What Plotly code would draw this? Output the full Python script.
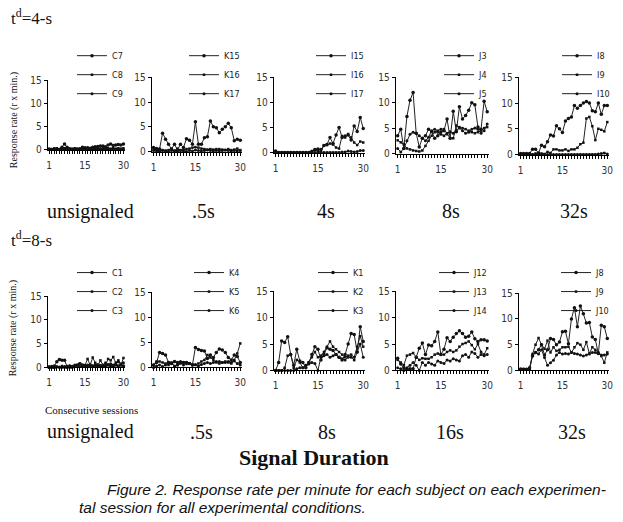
import plotly.graph_objects as go

sessions = list(range(1, 31))

# ---- t^d = 4 s ----
c7 = [0, 0, 0.2, 0, 0, 0.5, 1.2, 0.5, 0.2, 0, 0, 0.1, 0.2, 0.5, 0.4,
      0.4, 0.3, 0.5, 0.6, 0.7, 0.8, 0.8, 0.6, 1.0, 1.2, 0.9, 1.0, 1.1, 1.0, 1.2]
c8 = [0.2, 0.1, 0.2, 0.3, 0.1, 0.2, 0.3, 0.2, 0.1, 0.2, 0.3, 0.2, 0.1, 0.3, 0.2,
      0.1, 0.2, 0.3, 0.2, 0.3, 0.2, 0.3, 0.2, 0.3, 0.2, 0.3, 0.2, 0.3, 0.2, 0.3]
c9 = [0, 0, 0, 0.1, 0, 0, 0.1, 0, 0, 0, 0.1, 0, 0, 0.1, 0,
      0, 0.1, 0, 0, 0.1, 0, 0, 0.1, 0, 0, 0.1, 0, 0, 0.1, 0]

k15 = [0.8, 0.6, 0.5, 3.7, 2.5, 1.5, 0.5, 1.5, 0.3, 1.5, 0.8, 2.6, 2.3, 1.5, 6.0,
       1.5, 1.5, 2.8, 3.0, 6.2, 5.0, 4.8, 3.8, 4.5, 5.0, 5.7, 4.8, 2.2, 2.5, 2.3]
k16 = [0.5, 0.3, 0.2, 0.3, 0.2, 0.3, 0.5, 0.2, 0.6, 0.3, 0.3, 0.5, 0.6, 0.8, 0.9,
       0.8, 0.6, 0.5, 0.4, 0.5, 0.4, 0.5, 0.5, 0.4, 0.3, 0.5, 0.3, 0.4, 0.6, 0.3]
k17 = [0.2, 0.1, 0, 0.2, 0.1, 0, 0.2, 0.1, 0, 0.2, 0.1, 0, 0.2, 0.1, 0.3,
       0.2, 0.1, 0.2, 0.3, 0.2, 0.1, 0.2, 0.1, 0.2, 0.3, 0.2, 0.1, 0.2, 0.1, 0.2]

i15 = [0.3, 0, 0, 0, 0, 0, 0, 0, 0, 0, 0, 0, 0.2, 0.6, 0.7,
       0.6, 1.4, 1.6, 3.0, 1.8, 3.5, 5.0, 3.0, 3.3, 3.5, 2.5, 5.3, 4.2, 7.0, 4.8]
i16 = [0, 0, 0, 0, 0, 0, 0, 0, 0, 0, 0, 0, 0.3, 0.5, 0.3,
       0.2, 1.4, 1.5, 1.8, 1.6, 1.0, 0.8, 3.3, 3.0, 3.7, 3.0, 2.0, 1.5, 2.2, 2.0]
i17 = [0, 0, 0, 0, 0, 0, 0, 0, 0, 0, 0, 0, 0, 0, 0,
       0, 0, 0, 0, 0, 0, 0, 0.1, 0.1, 0.3, 0.2, 0.1, 0.2, 0.4, 0.4]

j3 = [3.5, 4.8, 1.0, 7.3, 10.5, 12.0, 4.0, 1.3, 3.0, 3.5, 4.8, 4.3, 3.0, 3.5, 4.3,
      4.5, 6.8, 3.0, 8.3, 4.3, 9.2, 6.8, 7.5, 8.5, 10.0, 9.6, 5.2, 4.8, 10.3, 8.2]
j4 = [2.6, 2.2, 1.8, 1.0, 0.8, 0.6, 0.5, 0.4, 0.6, 1.5, 2.5, 3.5, 4.2, 4.5, 4.8,
      4.8, 3.8, 3.0, 3.0, 5.5, 5.2, 5.0, 4.8, 4.5, 4.2, 4.0, 4.2, 4.5, 5.0, 5.2]
j5 = [1.0, 0.3, 1.0, 2.5, 3.8, 4.2, 4.0, 3.5, 3.0, 2.5, 3.2, 4.5, 4.8, 4.2, 3.8,
      3.5, 4.0, 4.3, 4.0, 4.5, 5.0, 4.5, 4.0, 4.2, 4.8, 5.0, 4.8, 4.0, 4.5, 5.8]

i8 = [0.2, 0.2, 0.2, 0.2, 1.0, 1.0, 0.3, 1.8, 1.5, 2.5, 3.8, 3.6, 5.6, 5.0, 4.3,
      6.5, 7.0, 7.3, 9.5, 9.0, 9.5, 10.0, 10.3, 10.0, 8.5, 8.3, 10.0, 7.8, 9.5, 9.5]
i9 = [0, 0, 0, 0, 0, 0.2, 0.1, 0.2, 0.1, 0.5, 0.3, 1.0, 1.0, 0.8, 0.8,
      1.0, 0.7, 1.0, 1.0, 1.3, 2.0, 2.3, 7.0, 7.3, 5.5, 2.8, 5.0, 4.8, 4.5, 6.3]
i10 = [0, 0, 0, 0, 0, 0, 0, 0, 0, 0, 0, 0, 0, 0, 0,
       0, 0, 0, 0, 0, 0, 0, 0, 0, 0, 0, 0.1, 0.2, 0.3, 0.1]

# ---- t^d = 8 s ----
c1 = [0, 0.2, 0.3, 1.2, 1.7, 1.5, 1.5, 0.2, 0.3, 0.2, 0.3, 0.5, 0.8, 0.5, 0.3,
      0.2, 0.5, 0.3, 0.2, 0.5, 0.3, 0.2, 0.3, 0.5, 0.3, 0.2, 0.5, 0.3, 0.5, 0.3]
c2 = [0, 0, 0, 0.1, 0, 0, 0, 0, 0, 0, 0.3, 0.5, 0.8, 0.3, 0.5,
      1.8, 0.5, 2.1, 1.0, 0.3, 1.5, 0.5, 0.5, 1.8, 1.5, 2.2, 1.0, 1.5, 0.5, 2.0]
c3 = [0.2, 0.1, 0, 0.2, 0.1, 0.3, 0.2, 0.1, 0.3, 0.2, 0.5, 0.3, 0.2, 0.4, 0.3,
      0.5, 0.4, 0.3, 0.5, 0.6, 0.4, 0.5, 1.0, 0.6, 0.8, 0.5, 0.7, 1.2, 0.8, 1.0]

k4 = [0.5, 1.0, 3.0, 2.8, 2.5, 1.0, 0.8, 1.2, 1.0, 1.0, 1.0, 1.0, 0.8, 0.5, 4.0,
      3.6, 3.4, 3.3, 1.8, 2.5, 2.0, 3.0, 3.7, 3.5, 3.0, 2.0, 1.5, 2.5, 2.2, 1.0]
k5 = [0.5, 1.2, 1.2, 1.0, 0.8, 0.5, 1.0, 0.3, 0.5, 0.8, 1.0, 0.7, 0.8, 0.6, 0.5,
      0.8, 1.2, 1.5, 2.5, 2.0, 1.5, 1.0, 0.8, 1.0, 1.2, 1.0, 0.8, 1.5, 2.8, 4.8]
k6 = [0, 0.3, 0.5, 0.2, 0.5, 1.0, 0.8, 0.2, 0.5, 1.2, 0.5, 1.0, 0.8, 0.5, 0.6,
      0.3, 0.6, 0.8, 1.0, 0.8, 1.0, 1.2, 1.2, 1.0, 1.0, 1.2, 1.0, 1.3, 0.8, 0.5]

k1 = [0, 1.5, 5.6, 5.3, 6.4, 3.0, 1.0, 4.0, 1.8, 1.5, 0.5, 1.5, 3.0, 4.5, 4.0,
      2.0, 3.0, 4.3, 4.0, 3.8, 3.0, 2.5, 2.0, 3.0, 5.0, 7.0, 6.8, 3.5, 8.3, 5.5]
k2 = [0, 0, 0, 0.5, 2.8, 3.0, 0.5, 2.0, 1.5, 0.5, 1.0, 1.5, 2.5, 3.5, 2.5,
      2.8, 3.5, 4.5, 5.5, 4.5, 4.0, 3.5, 3.0, 2.5, 2.8, 3.0, 2.5, 4.5, 6.5, 4.5]
k3 = [0, 0, 0, 0, 0, 0, 0, 0.3, 0.5, 0.5, 1.0, 1.2, 1.5, 1.3, 0,
      2.5, 2.8, 3.0, 2.5, 2.8, 3.0, 2.5, 2.2, 2.0, 2.5, 2.5, 2.0, 3.5, 5.0, 2.5]

j12 = [2.3, 1.2, 0.5, 0.2, 0.3, 0.3, 2.5, 4.2, 5.2, 3.0, 4.8, 4.7, 5.5, 7.3, 3.0,
       4.0, 6.2, 5.5, 6.3, 7.0, 7.5, 7.0, 6.3, 6.5, 7.3, 6.0, 5.5, 5.8, 5.8, 5.6]
j13 = [2.0, 1.5, 1.0, 2.8, 3.0, 3.3, 2.5, 2.0, 2.3, 2.2, 2.2, 2.5, 3.0, 3.2, 3.0,
       3.0, 3.5, 3.8, 3.5, 3.8, 4.5, 5.0, 5.2, 5.5, 4.8, 4.0, 5.0, 3.5, 3.0, 4.2]
j14 = [0.5, 0.3, 0, 0.5, 1.0, 1.5, 1.0, 0, 1.5, 1.0, 1.5, 1.2, 1.0, 1.8, 1.5,
       1.3, 2.0, 1.8, 2.2, 2.0, 1.8, 2.8, 3.0, 2.5, 3.5, 3.2, 2.5, 3.0, 2.8, 3.0]

j8 = [0.3, 0.2, 0.2, 0.5, 2.8, 3.5, 4.0, 5.0, 3.0, 4.0, 6.2, 6.0, 5.0, 5.5, 7.5,
      7.6, 5.2, 10.0, 12.2, 8.5, 12.5, 11.0, 9.2, 9.3, 6.5, 6.0, 3.3, 8.8, 8.5, 6.2]
j9 = [0.2, 0.3, 0.2, 0.3, 3.2, 5.0, 6.3, 5.0, 4.2, 5.8, 3.5, 4.5, 3.8, 4.0, 4.5,
      4.5, 4.6, 3.5, 4.5, 5.3, 5.0, 4.0, 5.5, 3.3, 4.5, 4.0, 3.5, 2.8, 1.5, 3.5]
j10 = [0.2, 0.2, 0.3, 0.2, 3.0, 3.5, 3.2, 4.0, 2.5, 1.0, 1.5, 2.0, 3.0, 3.5, 3.2,
       3.3, 3.2, 3.5, 3.3, 3.2, 3.0, 2.8, 3.0, 3.2, 3.5, 3.5, 3.3, 3.0, 3.0, 3.2]

top_conditions = ["unsignaled", ".5s", "4s", "8s", "32s"]
bottom_conditions = ["unsignaled", ".5s", "8s", "16s", "32s"]

top_panels = [
    (["C7", "C8", "C9"], [c7, c8, c9]),
    (["K15", "K16", "K17"], [k15, k16, k17]),
    (["I15", "I16", "I17"], [i15, i16, i17]),
    (["J3", "J4", "J5"], [j3, j4, j5]),
    (["I8", "I9", "I10"], [i8, i9, i10]),
]
bottom_panels = [
    (["C1", "C2", "C3"], [c1, c2, c3]),
    (["K4", "K5", "K6"], [k4, k5, k6]),
    (["K1", "K2", "K3"], [k1, k2, k3]),
    (["J12", "J13", "J14"], [j12, j13, j14]),
    (["J8", "J9", "J10"], [j8, j9, j10]),
]

W, H = 623, 522
NARROW = "Liberation Sans Narrow, DejaVu Sans Condensed, Arial Narrow, sans-serif"
SERIF = "Liberation Serif, Times New Roman, serif"

# pixel boxes of each panel: (left, right, top, bottom)
top_boxes = [(47, 125, 76, 147), (152, 243, 73, 149), (275, 367, 73, 150),
             (398, 492, 73, 151), (522, 613, 73, 152)]
bottom_boxes = [(47, 125, 297, 370), (152, 243, 293, 370), (275, 367, 292, 373),
                (398, 492, 292, 373), (522, 613, 294, 373)]
top_legend_right = [128, 246, 371, 496, 619]
bottom_legend_right = [128, 246, 371, 496, 619]

symbols = ["circle", "square", "circle"]
sizes = [3.5, 2.5, 3]

fig = go.Figure()
layout = {}

panels = [(p, b, lr, 36) for p, b, lr in zip(top_panels, top_boxes, top_legend_right)]
panels += [(p, b, lr, 258) for p, b, lr in zip(bottom_panels, bottom_boxes, bottom_legend_right)]

for k, ((names, series), (l, r, t, b), leg_r, leg_t) in enumerate(panels, start=1):
    sfx = "" if k == 1 else str(k)
    for j, (name, vals) in enumerate(zip(names, series)):
        fig.add_trace(go.Scatter(
            x=sessions, y=vals, name=name, mode="lines+markers",
            line=dict(color="#222", width=1),
            marker=dict(symbol=symbols[j], size=sizes[j], color="#111"),
            xaxis="x" + sfx, yaxis="y" + sfx, legend="legend" + sfx,
            legendgroup=f"{k}-{j}", cliponaxis=False,
        ))
    layout["xaxis" + sfx] = dict(
        domain=[l / W, r / W], anchor="y" + sfx, range=[0.4, 30.6],
        tickvals=[1, 15, 30], ticks="outside", ticklen=3, tickcolor="black",
        minor=dict(dtick=1, tick0=0, ticks="outside", ticklen=3, tickcolor="black"),
        showline=True, linecolor="black", linewidth=1, showgrid=False, zeroline=False,
        tickfont=dict(family=NARROW, size=10, color="#333"), ticklabelstandoff=3,
    )
    layout["yaxis" + sfx] = dict(
        domain=[1 - b / H, 1 - t / H], anchor="x" + sfx, range=[0, 15],
        tickvals=[0, 5, 10, 15], ticks="outside", ticklen=3, tickcolor="black",
        showline=True, linecolor="black", linewidth=1, showgrid=False, zeroline=False,
        tickfont=dict(family=NARROW, size=10, color="#333"),
    )
    layout["legend" + sfx] = dict(
        x=leg_r / W, y=1 - leg_t / H, xanchor="right", yanchor="top",
        font=dict(family=NARROW, size=9, color="#222"),
        bgcolor="rgba(0,0,0,0)", borderwidth=0, itemwidth=30, tracegroupgap=0,
    )

fig.update_layout(**layout)


def note(text, x, y, size, family=SERIF, xanchor="center", **kw):
    return dict(text=text, x=x / W, y=1 - y / H, xref="paper", yref="paper",
                xanchor=xanchor, yanchor="middle", showarrow=False,
                font=dict(family=family, size=size, color="#111"), **kw)


annotations = []
top_label_x = [90, 204, 328, 454, 578]
bottom_label_x = [90, 202, 329, 453, 576]
for txt, xc in zip(top_conditions, top_label_x):
    annotations.append(note(txt, xc, 210, 20))
for txt, xc in zip(bottom_conditions, bottom_label_x):
    annotations.append(note(txt, xc, 436, 20))

CAPTION = "Liberation Sans, Arial, sans-serif"
annotations += [
    note("t<sup>d</sup>=4-s", 8, 11, 17, xanchor="left"),
    note("t<sup>d</sup>=8-s", 8, 238, 17, xanchor="left"),
    note("Response rate (r x min.)", 13, 117, 10, textangle=-90),
    note("Response rate (r x min.)", 13, 330, 10, textangle=-90),
    note("Consecutive sessions", 42, 413, 11, xanchor="left"),
    note("<b>Signal Duration</b>", 316, 462, 22),
    note("<i>Figure 2. Response rate per minute for each subject on each experimen-</i>",
         105, 495, 15.5, family=CAPTION, xanchor="left"),
    note("<i>tal session for all experimental conditions.</i>",
         77, 513, 15.5, family=CAPTION, xanchor="left"),
]

fig.update_layout(
    width=W, height=H, autosize=False,
    margin=dict(l=0, r=0, t=0, b=0),
    paper_bgcolor="white", plot_bgcolor="white",
    annotations=annotations,
)

# drop the browser's default 8px body margin so the figure sits at the page corner
fig.write_html("out.html", config={"displayModeBar": False},
               post_script="document.body.style.margin='0';")
